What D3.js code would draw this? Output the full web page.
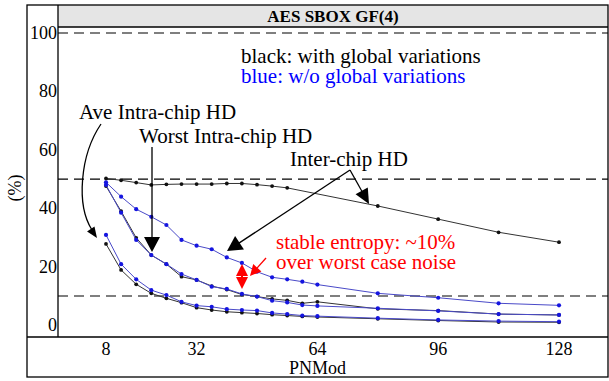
<!DOCTYPE html>
<html><head><meta charset="utf-8">
<script src="https://cdn.jsdelivr.net/npm/d3@7"></script>
<style>body{margin:0;background:#fff}svg{display:block}</style>
</head><body><svg id="c" width="609" height="381" font-family="Liberation Serif"></svg>
<script>
// ---- data ----
const xFull = [8,12,16,20,24,28,32,36,40,44,48,52,56,60,64,80,96,112,128];
const xInterBlack = [8,12,16,20,24,28,32,36,40,44,48,52,56,80,96,112,128];
const interBlack = [50.2,49.6,48.8,48.0,48.2,48.3,48.3,48.3,48.5,48.5,48.1,47.6,47.0,40.8,36.3,31.8,28.4];
const interBlue  = [48.9,44.0,39.7,37.1,34.3,29.2,27.2,26.0,23.2,21.3,18.3,16.4,15.7,14.9,13.9,10.9,9.4,7.5,6.8];
const worstBlack = [47.6,39.0,29.9,24.0,20.9,16.6,15.5,13.4,12.2,10.5,9.8,9.0,8.5,7.5,8.0,5.6,5.0,3.8,3.5];
const worstBlue  = [48.0,38.5,29.2,24.0,20.9,17.5,15.5,13.2,12.4,10.7,9.8,8.4,7.8,6.9,6.6,5.8,4.9,3.8,3.5];
const aveBlack   = [27.8,18.9,14.0,10.9,9.2,7.7,6.0,5.2,4.6,4.3,4.0,3.6,3.3,3.0,2.8,2.2,1.6,1.1,1.0];
const aveBlue    = [30.9,20.9,15.7,12.0,10.3,8.0,6.7,6.3,5.5,5.2,5.0,4.2,3.8,3.3,3.1,2.4,1.8,1.4,1.2];
const xTicks = [8,32,64,96,128];
const yTicks = [0,20,40,60,80,100];
const refLines = [100,50,10];
const title = "AES SBOX GF(4)";
const xLabel = "PNMod", yLabel = "(%)";

// ---- layout ----
const FONT = "'Liberation Serif','Times New Roman',Times,serif";
const svg = d3.select("#c").attr("font-family",FONT);
const F = {l:27, t:5, r:608, b:377}; // outer frame
const P = {l:58, t:27, b:337};      // panel
const x = d3.scaleLinear().domain([8,128]).range([106,559]);
const y = d3.scaleLinear().domain([0,100]).range([325.2,33]);

function txt(sel){ return sel.attr("font-family",FONT); }

// title strip
svg.append("rect").attr("x",P.l).attr("y",F.t).attr("width",F.r-P.l).attr("height",P.t-F.t).attr("fill","#e5e5e5");
txt(svg.append("text")).attr("x",(P.l+F.r)/2).attr("y",22).attr("text-anchor","middle")
  .attr("font-size",17).attr("font-weight","bold").text(title);

// reference dashed lines
svg.selectAll(".ref").data(refLines).join("line")
  .attr("x1",P.l).attr("x2",F.r).attr("y1",d=>y(d)).attr("y2",d=>y(d))
  .attr("stroke","#000").attr("stroke-width",1.2).attr("stroke-dasharray","10,6");

// series
const series = [
  {xs:xInterBlack, ys:interBlack, c:"#111", lc:"#333", r:1.9},
  {xs:xFull, ys:worstBlack, c:"#111", lc:"#333", r:1.9},
  {xs:xFull, ys:aveBlack, c:"#111", lc:"#333", r:1.9},
  {xs:xFull, ys:interBlue, c:"#1515e0", lc:"#4a4ac8", r:2.1},
  {xs:xFull, ys:worstBlue, c:"#1515e0", lc:"#4a4ac8", r:2.1},
  {xs:xFull, ys:aveBlue, c:"#1515e0", lc:"#4a4ac8", r:2.1},
];
const line = d3.line().x(d=>x(d[0])).y(d=>y(d[1]));
series.forEach(s=>{
  const pts = s.xs.map((v,i)=>[v,s.ys[i]]);
  svg.append("path").attr("d",line(pts)).attr("fill","none").attr("stroke",s.lc).attr("stroke-width",1);
  svg.append("g").selectAll("circle").data(pts).join("circle")
    .attr("cx",d=>x(d[0])).attr("cy",d=>y(d[1])).attr("r",s.r).attr("fill",s.c);
});

// frame
const fr = svg.append("g").attr("stroke","#000").attr("stroke-width",1.3).attr("fill","none");
fr.append("rect").attr("x",F.l).attr("y",F.t).attr("width",F.r-F.l).attr("height",F.b-F.t);
fr.append("line").attr("x1",P.l).attr("x2",P.l).attr("y1",F.t).attr("y2",P.b);
fr.append("line").attr("x1",P.l).attr("x2",F.r).attr("y1",P.t).attr("y2",P.t);
fr.append("line").attr("x1",F.l).attr("x2",F.r).attr("y1",P.b).attr("y2",P.b);

// tick labels
txt(svg.selectAll(".yt").data(yTicks).join("text")).attr("x",57).attr("y",d=>y(d)+6)
  .attr("text-anchor","end").attr("font-size",18).text(d=>d);
txt(svg.selectAll(".xt").data(xTicks).join("text")).attr("x",d=>x(d)).attr("y",355)
  .attr("text-anchor","middle").attr("font-size",18).text(d=>d);
txt(svg.append("text")).attr("x",x(64)).attr("y",374).attr("text-anchor","middle").attr("font-size",18).text(xLabel);
txt(svg.append("text")).attr("transform","translate(21,188) rotate(-90)").attr("text-anchor","middle").attr("font-size",18).text(yLabel);

// legend notes (one text block, two lines)
const leg = txt(svg.append("text")).attr("font-size",21);
leg.append("tspan").attr("x",241).attr("y",63).text("black: with global variations");
leg.append("tspan").attr("x",241).attr("y",83).attr("fill","#0000ff").text("blue: w/o global variations");

// annotations
const ann = [
  {t:"Ave Intra-chip HD", x:79, y:119},
  {t:"Worst Intra-chip HD", x:139, y:143},
  {t:"Inter-chip HD", x:290, y:166},
];
txt(svg.selectAll(".ann").data(ann).join("text")).attr("x",d=>d.x).attr("y",d=>d.y).attr("font-size",21).text(d=>d.t);
const red = txt(svg.append("text")).attr("font-size",21).attr("fill","#ff0000");
red.append("tspan").attr("x",276).attr("y",249).text("stable entropy: ~10%");
red.append("tspan").attr("x",276).attr("y",269).text("over worst case noise");

function head(tx,ty,ang,L,W,col){
  const ux=Math.cos(ang), uy=Math.sin(ang);
  const bx=tx-ux*L, by=ty-uy*L;
  const px=-uy*W/2, py=ux*W/2;
  svg.append("path").attr("d",`M${tx},${ty}L${bx+px},${by+py}L${bx-px},${by-py}Z`).attr("fill",col);
}
function arrow(x1,y1,tx,ty,L,W,col){
  const ang=Math.atan2(ty-y1,tx-x1);
  svg.append("line").attr("x1",x1).attr("y1",y1).attr("x2",tx-Math.cos(ang)*L*0.8).attr("y2",ty-Math.sin(ang)*L*0.8)
    .attr("stroke",col).attr("stroke-width",1.3);
  head(tx,ty,ang,L,W,col);
}
// Ave intra curved arrow
svg.append("path").attr("d","M101,124 C80,155 76,205 92,230").attr("fill","none").attr("stroke","#000").attr("stroke-width",1.3);
head(97,238,Math.atan2(238-222,97-86),11,9,"#000");
// Worst intra
arrow(152,147,152,252,15,16,"#000");
// Inter chip
arrow(350,170,369,204,15,14,"#000");
arrow(350,170,227,251,15,16,"#000");
// red arrows
arrow(266,258,250,276,11,11,"#ff0000");
head(242,264,-Math.PI/2,12,12,"#ff0000");
head(242,289,Math.PI/2,12,12,"#ff0000");
svg.append("line").attr("x1",242).attr("x2",242).attr("y1",272).attr("y2",281).attr("stroke","#ff0000").attr("stroke-width",2);
</script></body></html>
